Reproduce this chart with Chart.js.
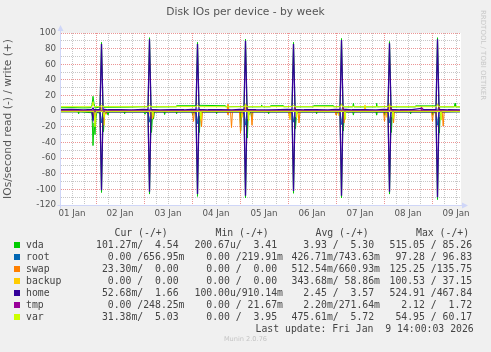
<!DOCTYPE html>
<html>
<head>
<meta charset="utf-8">
<script src="https://cdn.jsdelivr.net/npm/chart.js@4.4.1/dist/chart.umd.min.js"></script>
<style>
body { margin: 0; background: #f0f0f0; }
#wrap { position: relative; width: 491px; height: 352px; overflow: hidden; font-family: "DejaVu Sans", sans-serif; }
canvas { position: absolute; left: 0; top: 0; }
.t { position: absolute; white-space: pre; }
.mono { font-family: "DejaVu Sans Mono", monospace; font-size: 9.8px; line-height: 12px; color: #444; }
.sq { position: absolute; width: 6px; height: 6px; }
</style>
</head>
<body>
<div id="wrap">
  <canvas id="chart" width="491" height="352"></canvas>
  <div class="t" style="left:0;top:5px;width:491px;text-align:center;font-size:10.7px;line-height:14px;color:#555;">Disk IOs per device - by week</div>
  <div class="t" style="left:479px;top:10px;writing-mode:vertical-rl;font-size:7px;color:#c8c8c8;">RRDTOOL / TOBI OETIKER</div>
  <div id="legend"></div>
  <div class="t" style="left:0;top:335px;width:491px;text-align:center;font-size:6.6px;color:#c4c4c4;">Munin 2.0.76</div>
</div>
<script>
// hours since 01 Jan 00:00
const xMin = 6.5;
const xMax = 206.5;
const dayLabels = ['01 Jan', '02 Jan', '03 Jan', '04 Jan', '05 Jan', '06 Jan', '07 Jan', '08 Jan', '09 Jan'];

// [hour, IOs/s] - reads are drawn negative
const vdaRead = [[6.5,0.8],[15,0.8],[15.3,3],[15.6,0.8],[22,2],[22.5,44],[23,15],[23.5,30],[24,8],[24.5,1],[26,3],[26.75,104],[27.5,5],[27.75,26],[28.25,4],[29.5,1],[30,5],[30.5,1],
  [38,1],[38.3,3],[38.6,1],[48,1],[48.5,4],[49,1],[50,3],[50.75,106],[51.5,8],[51.75,27],[52.25,6],[52.75,10],[53.25,1],[58,1],[58.3,4],[58.6,1],
  [64,1],[64.3,3],[64.6,1],[72,1],[72.3,5],[72.6,1],[74,3],[74.75,109],[75.5,6],[75.7,27],[76.1,8],[76.6,3],[77,1],[84,1],[84.3,3],[84.6,1],
  [96,1],[96.3,25],[96.7,3],[98,3],[98.75,111],[99.5,10],[99.7,34],[100.1,6],[101.4,1],[101.8,8],[102.2,1],[110,1],[110.3,3],[110.6,1],
  [120.5,1],[120.8,6],[121.2,1],[122,3],[122.75,105],[123.5,8],[123.75,22],[124.25,4],[125,1],[134,1],[134.3,3],[134.6,1],
  [144,1],[144.3,4],[144.6,1],[146,3],[146.75,111],[147.5,8],[147.7,25],[148.1,5],[148.6,1],[152.4,1],[152.7,5],[153,1],[164,1],[164.3,5],[164.6,1],
  [168,1],[168.3,5],[168.6,1],[170,3],[170.75,106],[171.5,8],[171.7,27],[172.1,5],[173,1],[181,1],[181.3,3],[181.6,1],
  [192,1],[192.3,5],[192.6,1],[194,3],[194.75,113],[195.5,8],[195.7,28],[196.1,5],[197,1],[206,0.8]];
const vdaWrite = [[6.5,4.4],[12,4.6],[18,4.2],[21.5,4.5],[22,8],[22.5,19],[23,10],[23.5,4],[26,5.5],[26.75,88],[27.5,7],[28,5],[40,5.2],
  [50,5.8],[50.75,94],[51.5,7],[52,5.4],[64,5.6],[64.3,7],[74,7],[74.75,88],[75.5,7.5],[88.5,7],[88.8,5.6],
  [98,6],[98.75,92],[99.5,7],[100,5.5],[106.5,5.6],[106.8,8],[107.2,5.6],[111,5.6],[111.3,7],[117.5,7],[117.8,5.6],
  [122,6],[122.75,88],[123.5,7],[124,5.6],[132.5,5.6],[132.8,7],[142.5,7],[142.8,5.6],[146,6],[146.75,93],[147.5,7],[148,5.5],
  [152.4,5.5],[152.7,10],[153,5.5],[164,5.5],[164.3,10],[164.6,5.5],[170,6],[170.75,89],[171.5,7],[172,5.5],
  [183.5,5.5],[183.8,6.8],[193.5,6.8],[194,6.5],[194.75,94],[195.5,7],[196,5.5],[203.2,5.5],[203.5,10],[203.8,5.5],[206,5.4]];

const rootRead = [[6.5,0.3],[22,0.3],[22.5,12],[23,0.3],[26,0.4],[26.75,15],[27.5,0.4],[50,0.4],[50.75,14],[51.5,0.4],
  [74,0.4],[74.75,16],[75.5,0.4],[98,0.4],[98.75,18],[99.5,0.4],[122,0.4],[122.75,14],[123.5,0.4],
  [146,0.4],[146.75,17],[147.5,0.4],[170,0.4],[170.75,15],[171.5,0.4],[194,0.4],[194.75,18],[195.5,0.4],[206,0.3]];
const rootWrite = [[6.5,0.7],[26,0.8],[26.75,3],[27.5,0.7],[50,0.8],[50.75,3],[51.5,0.7],[74,0.8],[74.75,3],[75.5,0.7],
  [98,0.8],[98.75,3],[99.5,0.7],[122,0.8],[122.75,3],[123.5,0.7],[146,0.8],[146.75,3],[147.5,0.7],
  [170,0.8],[170.75,3],[171.5,0.7],[194,0.8],[194.75,3],[195.5,0.7],[206,0.66]];

const swapRead = [[6.5,0.2],[22,0.2],[22.5,5],[23,0.2],[23.5,8],[24,0.2],[28.5,0.2],[29,4],[29.5,0.2],
  [51,0.2],[51.5,10],[52,0.2],[52.5,8],[53,0.2],[72.25,0.2],[72.75,13],[73.25,0.2],[76.25,0.2],[76.75,20],[77.25,0.2],
  [89.5,0.2],[90,5],[90.5,0.2],[91.25,0.2],[91.75,21],[92.25,0.2],[95.75,0.2],[96.25,28],[96.75,0.2],[101.5,0.2],[102,18],[102.5,0.2],
  [120.25,0.2],[120.75,8],[121.25,0.2],[125,0.2],[125.5,15],[126,0.2],[143.5,0.2],[144,5],[144.5,0.2],[147.5,0.2],[148,15],[148.5,0.2],
  [167.75,0.2],[168.25,13],[168.75,0.2],[172.25,0.2],[172.75,15],[173.25,0.2],[191.75,0.2],[192.25,13],[192.75,0.2],[197.1,0.2],[197.6,19],[198.1,0.2],[206,0.2]];
const swapWrite = [[6.5,0.5],[89.5,0.5],[90,9],[90.5,0.5],[99,0.5],[99.5,8],[100,0.5],[123,0.5],[123.5,6],[124,0.5],
  [147,0.5],[147.5,6],[148,0.5],[171,0.5],[171.5,7],[172,0.5],[195,0.5],[195.5,8],[196,0.5],[206,0.5]];

const backupRead = [[6.5,0],[27.5,0],[28,18],[28.5,0],[50.9,0],[51.3,7],[51.7,0],[51.8,0],[52.2,10],[52.6,0],[76,0],[76.5,12],[77,0],
  [96.5,0],[97,8],[97.5,0],[120.5,0],[121,11],[121.5,0],[145,0],[145.5,6],[146,0],[169,0],[169.5,8],[170,0],[193.5,0],[194,7],[194.5,0],[206,0]];
const backupWrite = [[6.5,0],[26,0],[26.5,6],[27,0],[98,0],[98.5,8],[99,0],[158,0],[158.5,8],[159,0],[170,0],[170.5,9],[171,0],[206,0]];

const homeRead = [[6.5,0.5],[22,0.5],[22.5,10],[23,0.6],[26,0.7],[26.75,101],[27.5,1],[50,0.6],[50.75,103],[51.5,1],
  [74,0.6],[74.75,106],[75.5,1],[98,0.6],[98.75,108],[99.5,1],[122,0.6],[122.75,102],[123.5,1],
  [146,0.6],[146.75,108],[147.5,1],[170,0.6],[170.75,103],[171.5,1],[194,0.6],[194.75,110],[195.5,1],[206,0.5]];
const homeWrite = [[6.5,1.8],[12,2.2],[18,1.6],[22,2.4],[22.5,4],[23,1.9],[26,2.0],[26.75,86],[27.5,2.5],[30,1.8],[36,2.1],[42,1.7],[48,2.3],
  [50,2.0],[50.75,92],[51.5,2.4],[56,1.7],[62,2.0],[68,1.8],[72,2.2],[74,2.0],[74.75,86],[75.5,2.3],[80,1.8],[86,2.1],[92,1.7],[96,2.2],
  [98,2.0],[98.75,90],[99.5,2.4],[104,1.9],[110,1.6],[116,2.0],[120,2.2],[122,2.0],[122.75,86],[123.5,2.3],[128,1.8],[134,2.0],[140,1.7],[144,2.2],
  [146,2.0],[146.75,91],[147.5,2.5],[152,1.8],[158,2.1],[164,1.7],[168,2.2],[170,2.0],[170.75,87],[171.5,2.3],[176,1.8],[182,2.0],[186.8,3.5],[188,1.8],[192,2.1],
  [194,2.0],[194.75,92],[195.5,2.4],[200,1.8],[206,1.7]];

const tmpRead = [[6.5,0],[206,0]];
const tmpWrite = [[6.5,0.3],[186.5,0.3],[186.8,6],[187.1,0.3],[206,0.25]];

const varRead = [[6.5,0.3],[23,0.3],[23.5,20],[24,0.3],[27.5,0.3],[28,8],[28.5,0.3],[52,0.3],[52.3,6],[52.6,0.3],[76,0.3],[76.3,10],[76.6,0.3],
  [100,0.3],[100.3,12],[100.6,0.3],[124,0.3],[124.3,8],[124.6,0.3],[148.2,0.3],[148.5,10],[148.8,0.3],[172.2,0.3],[172.5,9],[172.8,0.3],[196.2,0.3],[196.5,11],[196.8,0.3],[206,0.3]];
const varWrite = [[6.5,5.8],[22,5.7],[22.5,12],[23,6],[26.25,5.8],[26.75,8],[27.25,5.9],[50.25,5.7],[50.75,8],[51.25,5.8],[74.25,5.9],[74.75,8],[75.25,5.8],
  [98.25,5.7],[98.75,9],[99.25,5.8],[122.25,5.9],[122.75,8],[123.25,5.8],[146.25,5.7],[146.75,9],[147.25,5.8],[170.25,5.8],[170.75,8],[171.25,5.9],
  [194.25,5.7],[194.75,9],[195.25,5.8],[206,5.7]];

const names = ['vda', 'root', 'swap', 'backup', 'home', 'tmp', 'var'];
const colors = ['#00CC00', '#0066B3', '#FF8000', '#FFCC00', '#330099', '#990099', '#CCFF00'];
const reads = [vdaRead, rootRead, swapRead, backupRead, homeRead, tmpRead, varRead];
const writes = [vdaWrite, rootWrite, swapWrite, backupWrite, homeWrite, tmpWrite, varWrite];

const curText = ['101.27m/  4.54 ', '  0.00 /656.95m', ' 23.30m/  0.00 ', '  0.00 /  0.00 ', ' 52.68m/  1.66 ', '  0.00 /248.25m', ' 31.38m/  5.03 '];
const minText = ['200.67u/  3.41 ', '  0.00 /219.91m', '  0.00 /  0.00 ', '  0.00 /  0.00 ', '100.00u/910.14m', '  0.00 / 21.67m', '  0.00 /  3.95 '];
const avgText = ['  3.93 /  5.30 ', '426.71m/743.63m', '512.54m/660.93m', '343.68m/ 58.86m', '  2.45 /  3.57 ', '  2.20m/271.64m', '475.61m/  5.72 '];
const maxText = ['515.05 / 85.26 ', ' 97.28 / 96.83 ', '125.25 /135.75 ', '100.53 / 37.15 ', '524.91 /467.84 ', '  2.12 /  1.72 ', ' 54.95 / 60.17 '];
const headers = ['Cur (-/+)', 'Min (-/+)', 'Avg (-/+)', 'Max (-/+)'];
const lastUpdate = 'Last update: Fri Jan  9 14:00:03 2026';

const axisColor = '#CFD6F8';
const gridMinor = 'rgba(143,143,143,0.5)';
const gridMajor = 'rgba(222,79,79,0.6)';

// legend
const legend = document.getElementById('legend');
function addText(cls, left, top, txt) {
  const d = document.createElement('div');
  d.className = 't ' + cls;
  d.style.left = left + 'px';
  d.style.top = top + 'px';
  d.textContent = txt;
  legend.appendChild(d);
}
const headX = [114.5, 215.5, 315.5, 416];
headers.forEach((h, i) => addText('mono', headX[i], 226.7, h));
const colX = [96, 194.5, 291.5, 389.5];
for (let i = 0; i < names.length; i++) {
  const top = 238.7 + i * 12;
  const sq = document.createElement('div');
  sq.className = 'sq';
  sq.style.left = '14px';
  sq.style.top = (top + 3) + 'px';
  sq.style.background = colors[i];
  legend.appendChild(sq);
  addText('mono', 26, top, names[i]);
  addText('mono', colX[0], top, curText[i]);
  addText('mono', colX[1], top, minText[i]);
  addText('mono', colX[2], top, avgText[i]);
  addText('mono', colX[3], top, maxText[i]);
}
addText('mono', 255.5, 322.7, lastUpdate);

const datasets = [];
for (let i = 0; i < names.length; i++) {
  datasets.push({
    label: names[i] + ' read',
    data: reads[i].map(p => ({ x: p[0], y: -p[1] })),
    borderColor: colors[i],
  });
  datasets.push({
    label: names[i] + ' write',
    data: writes[i].map(p => ({ x: p[0], y: p[1] })),
    borderColor: colors[i],
  });
}
datasets.forEach((d, i) => {
  d.order = 100 - i; // later series on top
  d.borderWidth = d.label.startsWith('home') ? 1.3 : 1;
  d.pointRadius = 0;
  d.tension = 0;
  d.fill = false;
});

const rrdPlugin = {
  id: 'rrd',
  beforeDraw(chart) {
    const { ctx, chartArea: a } = chart;
    ctx.save();
    ctx.fillStyle = '#ffffff';
    ctx.fillRect(a.left, a.top, a.right - a.left, a.bottom - a.top);
    ctx.restore();
  },
  afterDraw(chart) {
    const { ctx, chartArea: a } = chart;
    const x0 = Math.round(a.left) - 0.5;
    const y0 = Math.round(a.bottom) + 0.5;
    ctx.save();
    ctx.strokeStyle = axisColor;
    ctx.fillStyle = axisColor;
    ctx.lineWidth = 1;
    ctx.beginPath();
    ctx.moveTo(x0, a.top - 4);
    ctx.lineTo(x0, y0 + 3);
    ctx.moveTo(x0 - 3, y0);
    ctx.lineTo(a.right + 3, y0);
    ctx.stroke();
    ctx.beginPath();
    ctx.moveTo(x0, a.top - 8);
    ctx.lineTo(x0 - 3, a.top - 2);
    ctx.lineTo(x0 + 3, a.top - 2);
    ctx.closePath();
    ctx.fill();
    ctx.beginPath();
    ctx.moveTo(a.right + 7, y0);
    ctx.lineTo(a.right + 1, y0 - 3);
    ctx.lineTo(a.right + 1, y0 + 3);
    ctx.closePath();
    ctx.fill();
    ctx.restore();
  },
};

new Chart(document.getElementById('chart'), {
  type: 'line',
  data: { datasets: datasets },
  plugins: [rrdPlugin],
  options: {
    responsive: false,
    animation: false,
    devicePixelRatio: 1,
    layout: { padding: { top: 33, right: 30, bottom: 127, left: 0 } },
    plugins: { legend: { display: false }, tooltip: { enabled: false } },
    scales: {
      x: {
        type: 'linear',
        min: xMin,
        max: xMax,
        afterFit: (s) => { s.height = 20; },
        ticks: {
          stepSize: 6,
          includeBounds: false,
          autoSkip: false,
          maxRotation: 0,
          padding: 4,
          color: '#555',
          font: { family: 'DejaVu Sans', size: 8.7 },
          callback: (v) => (v % 24 === 12 ? dayLabels[Math.floor(v / 24)] : ''),
        },
        grid: {
          drawTicks: false,
          color: (c) => (c.tick && c.tick.value % 24 === 0 ? gridMajor : gridMinor),
        },
        border: { display: false, dash: [1, 1] },
      },
      y: {
        min: -120,
        max: 100,
        afterFit: (s) => { s.width = 61; },
        ticks: {
          stepSize: 10,
          autoSkip: false,
          padding: 5,
          color: '#555',
          font: { family: 'DejaVu Sans', size: 8.7 },
          callback: (v) => (v % 20 === 0 ? String(v) : ''),
        },
        grid: {
          drawTicks: false,
          color: (c) => (c.tick && c.tick.value % 20 === 0 ? gridMajor : gridMinor),
        },
        border: { display: false, dash: [1, 1] },
        title: {
          display: true,
          text: 'IOs/second read (-) / write (+)',
          color: '#555',
          font: { family: 'DejaVu Sans', size: 10.7 },
          padding: { top: 2, bottom: 0 },
        },
      },
    },
  },
});
</script>
</body>
</html>
